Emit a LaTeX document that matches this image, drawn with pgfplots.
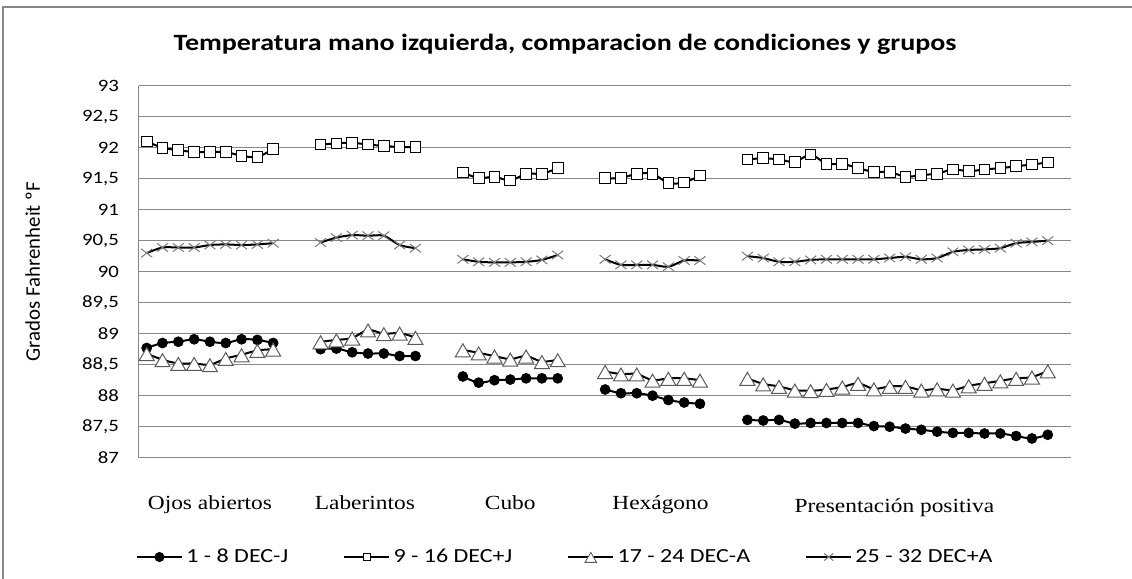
\documentclass[border=0pt]{standalone}
\usepackage{pgfplots}
\pgfplotsset{compat=1.18}
\usepackage{pgfplotstable}
\usepackage{fontspec}
\setmainfont[FakeStretch=1.2]{Carlito}
\newfontfamily\carlitoplain{Carlito}
\newfontfamily\timesf[FakeStretch=1.17]{Liberation Serif}
\definecolor{gridgray}{HTML}{878787}
\definecolor{xgray}{HTML}{7A7A7A}
\definecolor{trigray}{HTML}{5A5A5A}

% series 1 - 8 DEC-J (filled dots)
\pgfplotstableread{
x y
1 88.77
2 88.85
3 88.87
4 88.91
5 88.87
6 88.85
7 88.91
8 88.90
9 88.85
10 nan
12 88.75
13 88.76
14 88.70
15 88.68
16 88.68
17 88.64
18 88.64
19 nan
21 88.31
22 88.21
23 88.25
24 88.26
25 88.28
26 88.28
27 88.28
28 nan
30 88.10
31 88.04
32 88.04
33 88.00
34 87.93
35 87.89
36 87.87
37 nan
39 87.61
40 87.60
41 87.61
42 87.55
43 87.56
44 87.56
45 87.56
46 87.56
47 87.51
48 87.50
49 87.47
50 87.45
51 87.42
52 87.40
53 87.40
54 87.39
55 87.39
56 87.35
57 87.31
58 87.37
}\serA

% series 9 - 16 DEC+J (squares)
\pgfplotstableread{
x y
1 92.10
2 92.00
3 91.96
4 91.93
5 91.93
6 91.93
7 91.87
8 91.85
9 91.98
10 nan
12 92.05
13 92.07
14 92.08
15 92.05
16 92.03
17 92.01
18 92.01
19 nan
21 91.60
22 91.51
23 91.53
24 91.47
25 91.58
26 91.58
27 91.67
28 nan
30 91.51
31 91.51
32 91.58
33 91.58
34 91.43
35 91.44
36 91.55
37 nan
39 91.81
40 91.83
41 91.81
42 91.77
43 91.89
44 91.74
45 91.74
46 91.67
47 91.61
48 91.61
49 91.53
50 91.56
51 91.58
52 91.65
53 91.62
54 91.65
55 91.67
56 91.70
57 91.73
58 91.76
}\serB

% series 17 - 24 DEC-A (triangles)
\pgfplotstableread{
x y
1 88.68
2 88.58
3 88.52
4 88.52
5 88.50
6 88.60
7 88.66
8 88.73
9 88.75
10 nan
12 88.87
13 88.90
14 88.93
15 89.06
16 89.00
17 89.01
18 88.94
19 nan
21 88.74
22 88.69
23 88.64
24 88.59
25 88.64
26 88.55
27 88.58
28 nan
30 88.39
31 88.35
32 88.35
33 88.25
34 88.28
35 88.28
36 88.25
37 nan
39 88.28
40 88.19
41 88.15
42 88.09
43 88.08
44 88.10
45 88.14
46 88.20
47 88.11
48 88.15
49 88.15
50 88.09
51 88.11
52 88.09
53 88.16
54 88.20
55 88.24
56 88.28
57 88.30
58 88.40
}\serC

% series 25 - 32 DEC+A (crosses)
\pgfplotstableread{
x y
1 90.30
2 90.39
3 90.39
4 90.39
5 90.43
6 90.44
7 90.43
8 90.44
9 90.46
10 nan
12 90.47
13 90.55
14 90.59
15 90.58
16 90.58
17 90.43
18 90.38
19 nan
21 90.20
22 90.16
23 90.15
24 90.15
25 90.16
26 90.19
27 90.27
28 nan
30 90.20
31 90.11
32 90.11
33 90.11
34 90.08
35 90.18
36 90.18
37 nan
39 90.25
40 90.22
41 90.16
42 90.16
43 90.19
44 90.20
45 90.20
46 90.20
47 90.20
48 90.22
49 90.24
50 90.20
51 90.22
52 90.32
53 90.35
54 90.36
55 90.38
56 90.46
57 90.48
58 90.50
}\serD

\begin{document}
\begin{tikzpicture}
\path[use as bounding box] (0pt,0pt) rectangle (679.2pt,347.4pt);
\draw[gridgray, line width=1.2pt] (1.8pt,-10pt) -- (1.8pt,343.2pt) -- (690pt,343.2pt);
\node[font=\fontsize{14}{17}\selectfont\bfseries] at (339pt,321pt) {Temperatura mano izquierda, comparacion de condiciones y grupos};
\begin{axis}[
  at={(83.28pt,72.78pt)}, anchor=south west,
  scale only axis, width=559.6pt, height=223.2pt,
  xmin=0.5, xmax=59.5, ymin=87, ymax=93,
  ytick={87,87.5,...,93},
  /pgf/number format/use comma,
  /pgf/number format/fixed,
  /pgf/number format/assume math mode=true,
  yticklabel style={font=\fontsize{10.4}{12}\selectfont, xshift=-8.4pt},
  xtick={5,14.8,24,33.5},
  xticklabels={Ojos abiertos, Laberintos, Cubo, Hexágono},
  xticklabel style={font=\timesf\fontsize{12}{14}\selectfont, anchor=base, yshift=-30.8pt},
  extra x ticks={48.3},
  extra x tick labels={Presentación positiva},
  extra x tick style={xticklabel style={yshift=-2pt}},
  major tick length=0pt,
  axis x line=bottom, axis y line=left,
  axis line style={-, gridgray, line width=0.6pt},
  ymajorgrids, grid style={gridgray, line width=0.6pt},
  ylabel={Grados Fahrenheit ºF},
  ylabel style={at={(axis description cs:-0.1137,0.5)}, anchor=center, font=\carlitoplain\fontsize{12.5}{14}\selectfont},
  unbounded coords=jump,
  clip=false,
  legend columns=4,
  legend style={draw=none, at={(axis description cs:0.458,-0.267)}, anchor=center, font=\fontsize{12}{14}\selectfont,
    /tikz/every even column/.append style={column sep=31pt}},
  legend image code/.code={\draw[mark repeat=2,mark phase=2,#1] plot coordinates {(0pt,0pt) (13.5pt,0pt) (27pt,0pt)};},
]
% markers
\addplot[only marks, mark=*, mark size=3pt, mark options={fill=black, draw=black}, forget plot] table[x=x,y=y] {\serA};
\addplot[only marks, mark=square*, mark size=3.2pt, mark options={fill=white, draw=black, line width=0.6pt}, forget plot] table[x=x,y=y] {\serB};
\addplot[only marks, mark=triangle*, mark size=5.2pt, mark options={fill=white, draw=trigray, line width=0.6pt, yshift=-1.6pt}, forget plot] table[x=x,y=y] {\serC};
\addplot[only marks, mark=x, mark size=3.6pt, mark options={draw=xgray, line width=0.6pt, xscale=1.3}, forget plot] table[x=x,y=y] {\serD};
% lines
\addplot[black, line width=1.2pt, smooth, tension=0.5, no marks, forget plot] table[x=x,y=y] {\serA};
\addplot[black, line width=1.2pt, smooth, tension=0.5, no marks, forget plot] table[x=x,y=y] {\serB};
\addplot[black, line width=1.2pt, smooth, tension=0.5, no marks, forget plot] table[x=x,y=y] {\serC};
\addplot[black, line width=1.2pt, smooth, tension=0.5, no marks, forget plot] table[x=x,y=y] {\serD};
% legend
\addlegendimage{black, line width=1.2pt, mark=*, mark size=2.4pt, mark options={fill=black}}
\addlegendentry{1 - 8 DEC-J}
\addlegendimage{black, line width=1.2pt, mark=square*, mark size=2.2pt, mark options={fill=white, line width=0.5pt}}
\addlegendentry{9 - 16 DEC+J}
\addlegendimage{black, line width=1.2pt, mark=triangle*, mark size=4pt, mark options={fill=white, draw=trigray, line width=0.5pt, yshift=-1.2pt}}
\addlegendentry{17 - 24 DEC-A}
\addlegendimage{black, line width=1.2pt, mark=x, mark size=3pt, mark options={draw=xgray, line width=0.6pt, xscale=1.3}}
\addlegendentry{25 - 32 DEC+A}
\end{axis}
\end{tikzpicture}
\end{document}
